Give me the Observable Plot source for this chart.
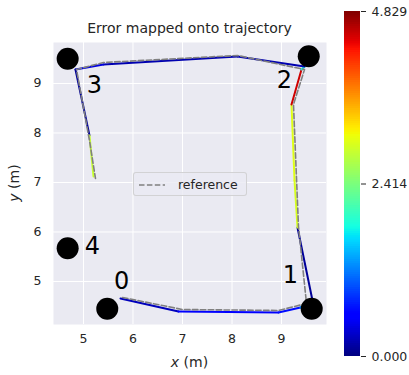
<!DOCTYPE html>
<html><head><meta charset="utf-8">
<script src="https://cdn.jsdelivr.net/npm/d3@7"></script>
<script src="https://cdn.jsdelivr.net/npm/@observablehq/plot@0.6"></script>
<style>
body{margin:0;background:#fff;font-family:"DejaVu Sans",sans-serif;color:#262626;}
#wrap{position:relative;width:409px;height:375px;overflow:hidden;}
.abs{position:absolute;white-space:nowrap;}
</style></head><body><div id="wrap"></div>
<script>
// ---- data ----
const title = "Error mapped onto trajectory";
const xLabelHtml = "<i>x</i> (m)";
const yLabelHtml = "<i>y</i> (m)";
const legendLabel = "reference";

const trajX   = [5.747, 6.919, 8.939, 9.384, 9.626, 9.323, 9.263, 9.202, 9.404, 9.465, 8.111, 5.404, 4.838, 5.121, 5.202];
const trajY   = [4.657, 4.394, 4.374, 4.475, 4.616, 6.091, 7.040, 8.576, 9.283, 9.343, 9.545, 9.384, 9.283, 7.949, 7.121];
const trajErr = [0.25,  0.55,  0.65,  1.30,  0.10,  2.95,  3.00,  4.50,  1.80,  0.20,  0.20,  0.40,  0.10,  2.85,  2.85];

const refX = [5.788, 7.000, 8.939, 9.505, 9.343, 9.242, 9.465, 8.111, 5.404, 4.859, 5.121, 5.242];
const refY = [4.677, 4.434, 4.414, 4.556, 6.111, 8.576, 9.283, 9.566, 9.424, 9.283, 7.848, 7.081];

const wpNames  = ["0", "1", "2", "3", "4"];
const wpX      = [5.48, 9.61, 9.55, 4.68, 4.68];
const wpY      = [4.45, 4.45, 9.55, 9.50, 5.67];
const wpLabelX = [5.77, 9.18, 9.06, 5.22, 5.18];
const wpLabelY = [5.00, 5.12, 9.06, 8.96, 5.71];

const xTicks = [5, 6, 7, 8, 9];
const yTicks = [5, 6, 7, 8, 9];
const xDomain = [4.394, 9.909];
const yDomain = [4.131, 9.828];
const errMax = 4.8288;
const cbTicks = [0, errMax / 2, errMax];

// ---- jet colormap ----
function pw(t, pts){
  for (let k = 1; k < pts.length; k++){
    if (t <= pts[k][0]){
      const [t0,v0] = pts[k-1], [t1,v1] = pts[k];
      return v0 + (v1 - v0) * (t - t0) / (t1 - t0);
    }
  }
  return pts[pts.length-1][1];
}
function jet(t){
  t = Math.max(0, Math.min(1, t));
  const r = pw(t, [[0,0],[0.35,0],[0.66,1],[0.89,1],[1,0.5]]);
  const g = pw(t, [[0,0],[0.125,0],[0.375,1],[0.64,1],[0.91,0],[1,0]]);
  const b = pw(t, [[0,0.5],[0.11,1],[0.34,1],[0.65,0],[1,0]]);
  return `rgb(${Math.round(r*255)},${Math.round(g*255)},${Math.round(b*255)})`;
}
const colorScale = {type: "linear", domain: [0, errMax], interpolate: jet};

const wrap = document.getElementById("wrap");
const segIdx = d3.range(trajX.length - 1);
const refIdx = d3.range(refX.length);
const wpIdx = d3.range(wpNames.length);

const main = Plot.plot({
  width: 340, height: 375,
  marginLeft: 53, marginRight: 14, marginTop: 42, marginBottom: 51,
  x: {domain: xDomain},
  y: {domain: yDomain},
  color: colorScale,
  style: {fontFamily: "DejaVu Sans", fontSize: "12.5px", color: "#262626", background: "transparent", overflow: "visible"},
  marks: [
    Plot.frame({fill: "#EAEAF2", stroke: null}),
    Plot.gridX(xTicks, {stroke: "white", strokeOpacity: 1, strokeWidth: 1}),
    Plot.gridY(yTicks, {stroke: "white", strokeOpacity: 1, strokeWidth: 1}),
    Plot.axisX(xTicks, {tickSize: 0, tickPadding: 10, tickFormat: d3.format("d"), label: null}),
    Plot.axisY(yTicks, {tickSize: 0, tickPadding: 12, tickFormat: d3.format("d"), label: null}),
    Plot.link(segIdx, {
      x1: i => trajX[i], y1: i => trajY[i], x2: i => trajX[i+1], y2: i => trajY[i+1],
      stroke: i => trajErr[i], strokeWidth: 2, strokeLinecap: "round"
    }),
    Plot.line(refIdx, {x: i => refX[i], y: i => refY[i], stroke: "#808080", strokeWidth: 1.6, strokeDasharray: "5.5,2.4"}),
    Plot.dot(wpIdx, {x: i => wpX[i], y: i => wpY[i], r: 11, fill: "black", stroke: null}),
    Plot.text(wpIdx, {x: i => wpLabelX[i], y: i => wpLabelY[i], text: i => wpNames[i], fontSize: 24, fill: "black"})
  ]
});
main.style.position = "absolute"; main.style.left = "0px"; main.style.top = "0px";
wrap.appendChild(main);

const N = 160;
const cb = Plot.plot({
  width: 69, height: 375,
  marginLeft: 4, marginRight: 49, marginTop: 11, marginBottom: 19,
  y: {domain: [0, errMax]},
  color: colorScale,
  style: {fontFamily: "DejaVu Sans", fontSize: "12.5px", color: "#262626", background: "transparent", overflow: "visible"},
  marks: [
    Plot.rect(d3.range(N), {
      y1: i => i * errMax / N, y2: i => Math.min(errMax, (i + 1.6) * errMax / N),
      fill: i => (i + 0.5) * errMax / N, inset: 0
    }),
    Plot.axisY(cbTicks, {anchor: "right", tickSize: 5, tickPadding: 6, tickFormat: d3.format(".3f"), label: null})
  ]
});
cb.style.position = "absolute"; cb.style.left = "340px"; cb.style.top = "0px";
wrap.appendChild(cb);

function addDiv(html, css){
  const d = document.createElement("div");
  d.className = "abs"; d.innerHTML = html; Object.assign(d.style, css);
  wrap.appendChild(d); return d;
}
addDiv(title, {left: "53px", width: "273px", top: "21px", textAlign: "center", fontSize: "14px", lineHeight: "14px"});
addDiv(xLabelHtml, {left: "53px", width: "273px", top: "355px", textAlign: "center", fontSize: "14px", lineHeight: "14px"});
addDiv(yLabelHtml, {left: "-36px", width: "100px", top: "176px", textAlign: "center", fontSize: "14px", lineHeight: "14px", transform: "rotate(-90deg)"});

// legend
addDiv(
  `<svg width="28" height="10" style="vertical-align:middle;margin-right:12px"><line x1="1" y1="5" x2="27" y2="5" stroke="#808080" stroke-width="1.6" stroke-dasharray="5.5,2.4"/></svg><span style="vertical-align:middle">${legendLabel}</span>`,
  {left: "133px", top: "172px", width: "108px", height: "22px", lineHeight: "22px", fontSize: "12.5px",
   background: "rgba(234,234,242,0.8)", border: "1px solid rgba(204,204,204,0.8)", borderRadius: "3px",
   boxSizing: "content-box", paddingLeft: "4px"}
);
</script></body></html>
